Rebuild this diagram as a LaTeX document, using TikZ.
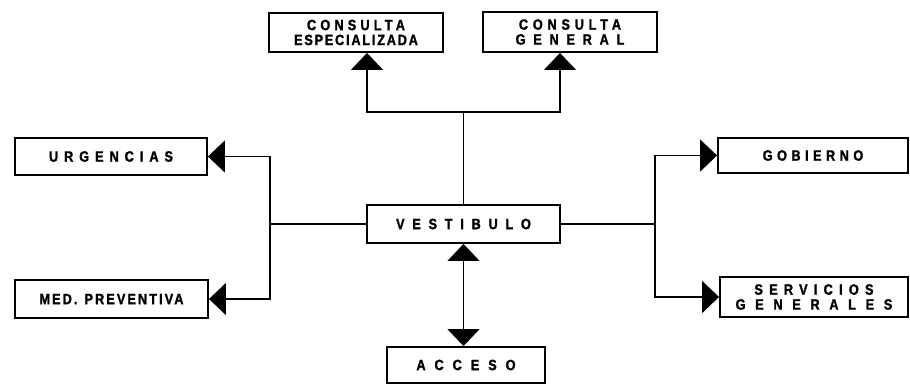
\documentclass[tikz,border=0pt]{standalone}
\usepackage{fontspec}
\usepackage{tikz}
\usetikzlibrary{arrows.meta,calc}

\newfontfamily\boxfont[FakeStretch=0.85,BoldFeatures={FakeBold=1.5}]{Liberation Sans}
% tracked capitals, #1 = extra space in % of the font size
\newcommand\trk[2]{{\addfontfeature{LetterSpace=#1}#2}}

\begin{document}
\begin{tikzpicture}[x=0.02cm, y=-0.02cm,
  box/.style ={draw, line width=1.1pt, align=center, inner sep=1pt,
               font=\boxfont\bfseries\fontsize{8.5}{8.5}\selectfont},
  conn/.style={line width=.8pt},
  arr/.style ={conn, -{Triangle[length=3.4mm,width=6.4mm]}},
  both/.style={conn, {Triangle[length=3.4mm,width=6.4mm]}-{Triangle[length=3.4mm,width=6.4mm]}}]

  \useasboundingbox (0,0) rectangle (910,386);

  % --- boxes ---------------------------------------------------------------
  \node[box, minimum width=3.48cm, minimum height=0.78cm] (ce) at (356,32.5)
    {\trk{28}{CONSULTA}\\\trk{12}{ESPECIALIZADA}};
  \node[box, minimum width=3.48cm, minimum height=0.80cm] (cg) at (570,32)
    {\trk{32}{CONSULTA}\\\trk{52}{GENERAL}};
  \node[box, minimum width=3.84cm, minimum height=0.74cm] (urg) at (111,156.5)
    {\trk{40}{URGENCIAS}};
  \node[box, minimum width=3.86cm, minimum height=0.76cm] (med) at (111.5,299)
    {\trk{14}{MED.\hspace{4pt}PREVENTIVA}};
  \node[box, minimum width=3.86cm, minimum height=0.76cm] (vest) at (463.5,224)
    {\trk{52}{VESTIBULO}};
  \node[box, minimum width=3.80cm, minimum height=0.70cm] (gob) at (813,155.5)
    {\trk{30}{GOBIERNO}};
  \node[box, minimum width=3.76cm, minimum height=0.80cm] (serv) at (814,297)
    {\trk{42}{SERVICIOS}\\\trk{65}{GENERALES}};
  \node[box, minimum width=3.16cm, minimum height=0.72cm] (acc) at (466,365)
    {\trk{60}{ACCESO}};

  % --- junctions -----------------------------------------------------------
  \coordinate (jt) at (463.5,112);
  \coordinate (jl) at (270,224);
  \coordinate (jr) at (655,224);

  % --- connectors ----------------------------------------------------------
  \draw[conn] (vest.north) -- (jt);
  \draw[arr] (jt) -| ([xshift=0.22cm]ce.south);
  \draw[arr] (jt) -| ([xshift=-0.2cm]cg.south);

  \draw[conn] (vest.west) -- (jl);
  \draw[arr] (jl) |- (urg.east);
  \draw[arr] (jl) |- (med.east);

  \draw[conn] (vest.east) -- (jr);
  \draw[arr] (jr) |- (gob.west);
  \draw[arr] (jr) |- (serv.west);

  \draw[both] (vest.south) -- (vest.south |- acc.north);
\end{tikzpicture}
\end{document}
